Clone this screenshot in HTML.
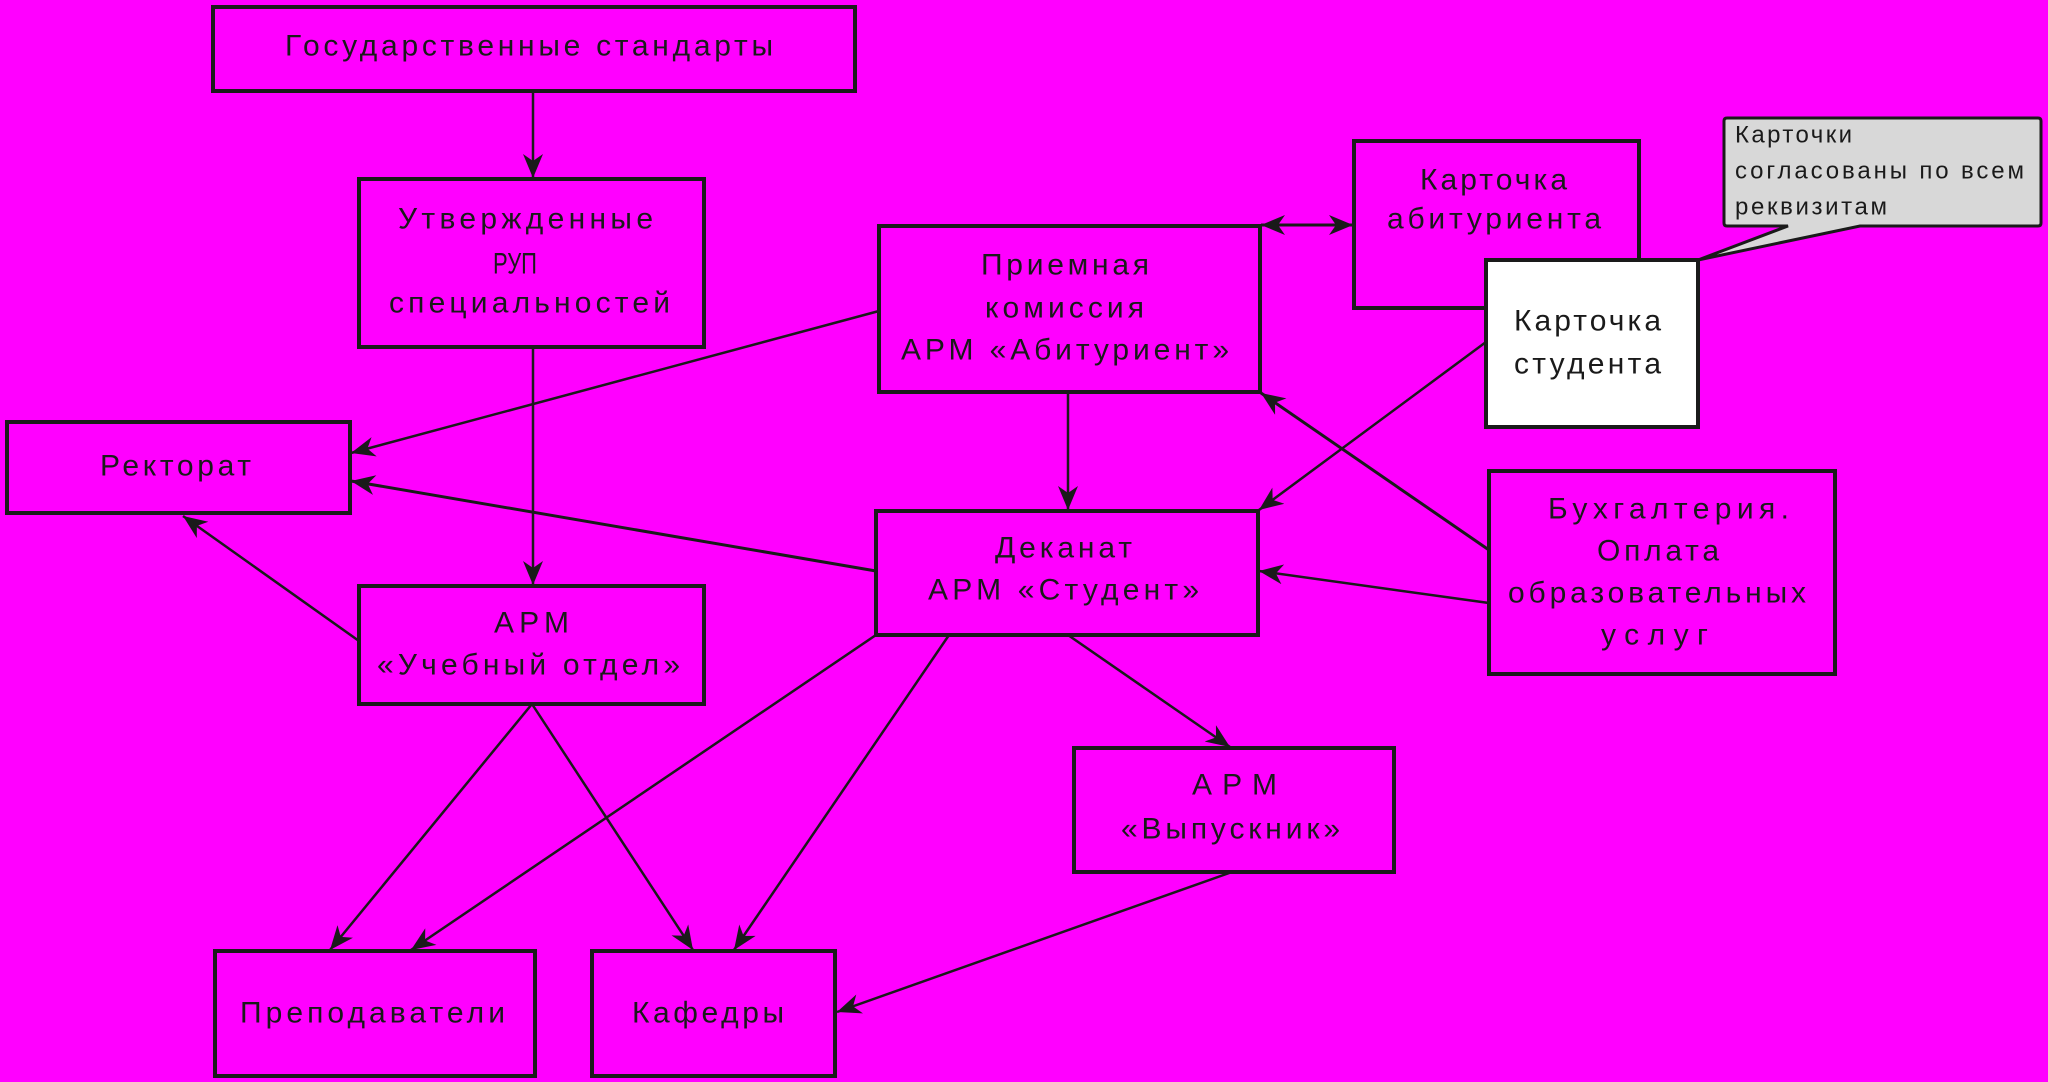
<!DOCTYPE html>
<html><head><meta charset="utf-8"><style>html,body{margin:0;padding:0;background:#ff00ff;}svg{display:block}</style></head>
<body>
<svg width="2048" height="1082" viewBox="0 0 2048 1082" xmlns="http://www.w3.org/2000/svg">
<defs>
<marker id="a" viewBox="0 0 24 20" refX="24" refY="10" markerWidth="24" markerHeight="20" markerUnits="userSpaceOnUse" orient="auto-start-reverse">
<path d="M0,0 L24,10 L0,20 L7,10 Z" fill="#1a1a1a"/>
</marker>
</defs>
<rect width="2048" height="1082" fill="#ff00ff"/>
<g fill="none" stroke="#1a1a1a" stroke-width="2.5">
<line x1="533" y1="91" x2="533" y2="178" marker-end="url(#a)"/>
<line x1="533" y1="347" x2="533" y2="585" marker-end="url(#a)"/>
<line x1="879" y1="311" x2="351" y2="453" marker-end="url(#a)"/>
<line x1="876" y1="571" x2="351" y2="481" marker-end="url(#a)" stroke-width="3"/>
<line x1="359" y1="641" x2="183" y2="516" marker-end="url(#a)"/>
<line x1="1261" y1="225" x2="1353" y2="225" marker-start="url(#a)" marker-end="url(#a)" stroke-width="3"/>
<line x1="1068" y1="392" x2="1068" y2="510" marker-end="url(#a)"/>
<line x1="1486" y1="342" x2="1259" y2="510" marker-end="url(#a)"/>
<line x1="1489" y1="550" x2="1261" y2="393" marker-end="url(#a)" stroke-width="3"/>
<line x1="1489" y1="603" x2="1259" y2="571" marker-end="url(#a)"/>
<line x1="1068" y1="635" x2="1230" y2="747" marker-end="url(#a)"/>
<line x1="876" y1="635" x2="411" y2="950" marker-end="url(#a)"/>
<line x1="949" y1="635" x2="734" y2="950" marker-end="url(#a)"/>
<line x1="532" y1="704" x2="330" y2="950" marker-end="url(#a)"/>
<line x1="532" y1="704" x2="693" y2="950" marker-end="url(#a)"/>
<line x1="1232" y1="872" x2="837" y2="1012" marker-end="url(#a)"/>
</g>
<g fill="none" stroke="#1a1a1a" stroke-width="4">
<rect x="213" y="7" width="642" height="84"/>
<rect x="359" y="179" width="345" height="168"/>
<rect x="879" y="226" width="381" height="166"/>
<rect x="1354" y="141" width="285" height="167"/>
<rect x="7" y="422" width="343" height="91"/>
<rect x="876" y="511" width="382" height="124"/>
<rect x="1489" y="471" width="346" height="203"/>
<rect x="359" y="586" width="345" height="118"/>
<rect x="1074" y="748" width="320" height="124"/>
<rect x="215" y="951" width="320" height="125"/>
<rect x="592" y="951" width="243" height="125"/>
</g>
<path d="M1727,118 H2038 Q2041,118 2041,121 V223 Q2041,226 2038,226 H1860 L1698,260 L1788,226 H1727 Q1724,226 1724,223 V121 Q1724,118 1727,118 Z" fill="#d8d8d8" stroke="#1a1a1a" stroke-width="3"/>
<rect x="1486" y="260" width="212" height="167" fill="#fff" stroke="#1a1a1a" stroke-width="4"/>
<g font-family="'Liberation Sans', 'DejaVu Sans', sans-serif" font-size="30" fill="#1a1a1a" dominant-baseline="central" lengthAdjust="spacing">
<text x="285" y="46" textLength="488">Государственные стандарты</text>
<text x="398" y="219" textLength="255">Утвержденные</text>
<text x="493" y="264" textLength="44" lengthAdjust="spacingAndGlyphs">РУП</text>
<text x="389" y="303" textLength="281">специальностей</text>
<text x="981" y="265" textLength="168">Приемная</text>
<text x="985" y="308" textLength="159">комиссия</text>
<text x="901" y="350" textLength="328">АРМ «Абитуриент»</text>
<text x="1420" y="180" textLength="147">Карточка</text>
<text x="1387" y="219" textLength="214">абитуриента</text>
<text x="1514" y="321" textLength="147">Карточка</text>
<text x="1514" y="364" textLength="147">студента</text>
<text x="100" y="466" textLength="151">Ректорат</text>
<text x="995" y="548" textLength="137">Деканат</text>
<text x="928" y="590" textLength="271">АРМ «Студент»</text>
<text x="1548" y="509" textLength="241">Бухгалтерия.</text>
<text x="1597" y="551" textLength="122">Оплата</text>
<text x="1508" y="593" textLength="298">образовательных</text>
<text x="1601" y="635" textLength="107">услуг</text>
<text x="494" y="623" textLength="75">АРМ</text>
<text x="377" y="665" textLength="303">«Учебный отдел»</text>
<text x="1192" y="785" textLength="85">АРМ</text>
<text x="1121" y="829" textLength="219">«Выпускник»</text>
<text x="240" y="1013" textLength="265">Преподаватели</text>
<text x="632" y="1013" textLength="152">Кафедры</text>
<g font-size="24">
<text x="1735" y="135" textLength="117">Карточки</text>
<text x="1735" y="171" textLength="289">согласованы по всем</text>
<text x="1735" y="207" textLength="152">реквизитам</text>
</g>
</g>
</svg>
</body></html>
